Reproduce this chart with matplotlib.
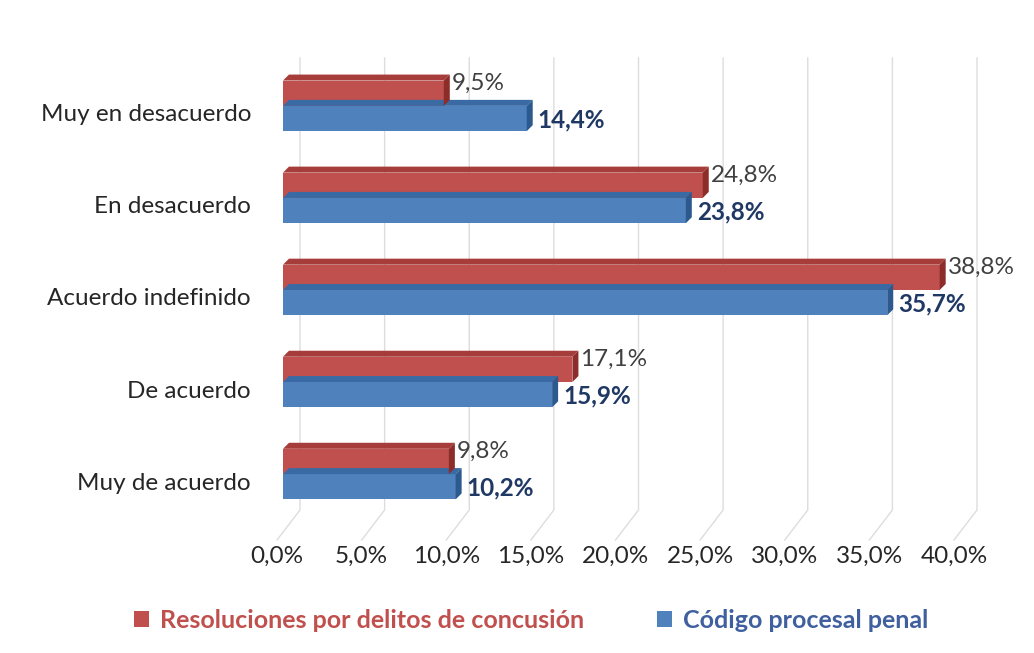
import matplotlib
matplotlib.use("Agg")
import matplotlib.pyplot as plt
import matplotlib.transforms as mtransforms
from matplotlib.patches import Polygon, Rectangle
from matplotlib.lines import Line2D

plt.rcParams['font.family'] = ['Lato', 'DejaVu Sans']

categories = ["Muy en desacuerdo", "En desacuerdo", "Acuerdo indefinido", "De acuerdo", "Muy de acuerdo"]
resoluciones = [9.5, 24.8, 38.8, 17.1, 9.8]
codigo = [14.4, 23.8, 35.7, 15.9, 10.2]
series_names = ["Resoluciones por delitos de concusión", "Código procesal penal"]
xticks = [0, 5, 10, 15, 20, 25, 30, 35, 40]
xtick_labels = ["0,0%", "5,0%", "10,0%", "15,0%", "20,0%", "25,0%", "30,0%", "35,0%", "40,0%"]

RED, RED_DARK, RED_TOP = "#C0504D", "#8C2D2A", "#A63D3A"
BLUE, BLUE_DARK, BLUE_TOP = "#4F81BD", "#2C5A8F", "#3A6AA3"
GRID = "#DDDDDD"
TXT = "#404040"
FS = 17.5

W, H, DPI = 1034, 653, 100
fig = plt.figure(figsize=(W / DPI, H / DPI), dpi=DPI)
ax = fig.add_axes([283 / W, 1 - 510 / H, (960 - 283) / W, (510 - 58) / H])
ax.set_xlim(0, 40)
ax.set_ylim(-0.39, 4.52)
ax.patch.set_visible(False)
for s in ax.spines.values():
    s.set_visible(False)

n = len(categories)
ypos = [n - 1 - i for i in range(n)]
bh = 0.275
DX, DY = 6, 6  # depth offset in pixels

def px(x, y):
    return ax.transData.transform((x, y))

inv = fig.transFigure.inverted()

def poly_px(points, color, z):
    pts = [inv.transform(p) for p in points]
    fig.patches.append(Polygon(pts, closed=True, facecolor=color, edgecolor='none',
                               transform=fig.transFigure, zorder=z))

# back wall gridlines and floor lines
fig.canvas.draw()
for v in xticks:
    x0, ytop = px(v, 4.52)
    _, ybot = px(v, -0.39)
    bx = x0 + 17
    a = inv.transform((bx, ytop))
    b = inv.transform((bx, ybot))
    c = inv.transform((bx - 23, ybot - 30))
    fig.lines.append(Line2D([a[0], b[0], c[0]], [a[1], b[1], c[1]],
                            transform=fig.transFigure, color=GRID, lw=1.0, zorder=-1))

def draw_bar3d(val, yc, front, side, top, z):
    bars = ax.barh([yc], [val], height=bh, color=front, zorder=z + 0.2, linewidth=0)
    r = bars[0]
    x0, y0 = px(r.get_x(), r.get_y())
    x1, y1 = px(r.get_x() + r.get_width(), r.get_y() + r.get_height())
    poly_px([(x0, y1), (x1, y1), (x1 + DX, y1 + DY), (x0 + DX, y1 + DY)], top, z)
    poly_px([(x1, y0), (x1 + DX, y0 + DY), (x1 + DX, y1 + DY), (x1, y1)], side, z + 0.1)
    return x1, y0, y1

for i in range(n):
    yc = ypos[i]
    draw_bar3d(codigo[i], yc - bh / 2, BLUE, BLUE_DARK, BLUE_TOP, 2)
    draw_bar3d(resoluciones[i], yc + bh / 2, RED, RED_DARK, RED_TOP, 3)
    off_r = mtransforms.offset_copy(ax.transData, fig=fig, x=8, y=-3, units='dots')
    ax.text(resoluciones[i], yc + bh, f"{resoluciones[i]:.1f}%".replace('.', ','),
            transform=off_r, ha='left', va='center', fontsize=FS, color=TXT, zorder=5)
    off_b = mtransforms.offset_copy(ax.transData, fig=fig, x=11, y=-1, units='dots')
    ax.text(codigo[i], yc - bh / 2, f"{codigo[i]:.1f}%".replace('.', ','),
            transform=off_b, ha='left', va='center', fontsize=FS, color="#1F3864",
            fontweight='bold', zorder=5)

ax.set_yticks(ypos)
ax.set_yticklabels(categories, fontsize=FS, color="#262626")
ax.tick_params(axis='y', length=0, pad=23)
for lab in ax.get_yticklabels():
    lab.set_transform(lab.get_transform() + mtransforms.ScaledTranslation(0, -7 / DPI, fig.dpi_scale_trans))

ax.set_xticks(xticks)
ax.set_xticklabels(xtick_labels, fontsize=FS, color="#262626")
ax.tick_params(axis='x', length=0, pad=26)
for lab in ax.get_xticklabels():
    lab.set_transform(lab.get_transform() + mtransforms.ScaledTranslation(-6 / DPI, 0, fig.dpi_scale_trans))

handles = [Rectangle((0, 0), 1, 1, facecolor=RED, edgecolor='none'),
           Rectangle((0, 0), 1, 1, facecolor=BLUE, edgecolor='none')]
leg = fig.legend(handles, series_names, loc='center', bbox_to_anchor=(531 / W, 1 - 620 / H),
                 ncol=2, frameon=False, handlelength=0.6, handleheight=0.6,
                 handletextpad=0.45, columnspacing=2.9,
                 prop={'size': 18, 'weight': 'bold'})
leg.get_texts()[0].set_color(RED)
leg.get_texts()[1].set_color("#3F5F9F")

fig.savefig("out.png", dpi=DPI)
